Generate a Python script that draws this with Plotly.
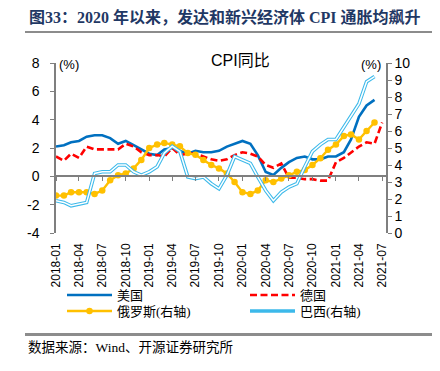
import plotly.graph_objects as go

# ---- data ----
MONTHS = [f"{y}-{m:02d}" for y in range(2018, 2022) for m in range(1, 13)][:43]

US = [2.1, 2.2, 2.4, 2.5, 2.8, 2.9, 2.9, 2.7, 2.3, 2.5, 2.2, 1.9,
      1.6, 1.5, 1.9, 2.0, 1.8, 1.6, 1.8, 1.7, 1.7, 1.8, 2.1, 2.3,
      2.5, 2.3, 1.5, 0.3, 0.1, 0.6, 1.0, 1.3, 1.4, 1.2, 1.2, 1.4,
      1.4, 1.7, 2.6, 4.2, 5.0, 5.4]

GERMANY = [1.4, 1.1, 1.6, 1.3, 2.1, 1.9, 1.9, 1.9, 1.9, 2.3, 2.1, 1.7,
           1.5, 1.5, 1.4, 2.0, 1.5, 1.6, 1.6, 1.4, 1.2, 1.1, 1.2, 1.5,
           1.7, 1.6, 1.4, 0.8, 0.6, 0.9, -0.1, -0.1, -0.2, -0.2, -0.3, -0.3,
           1.0, 1.3, 1.7, 2.1, 2.4, 2.3, 3.8]

RUSSIA = [2.2, 2.2, 2.4, 2.4, 2.4, 2.3, 2.5, 3.1, 3.4, 3.5, 3.8, 4.3,
          5.0, 5.2, 5.3, 5.2, 5.1, 4.7, 4.6, 4.3, 4.0, 3.8, 3.5, 3.0,
          2.4, 2.3, 2.5, 3.1, 3.0, 3.2, 3.4, 3.6, 3.7, 4.0, 4.4, 4.9,
          5.2, 5.7, 5.8, 5.5, 6.0, 6.5]

BRAZIL = [1.9, 1.8, 1.6, 1.7, 1.8, 3.5, 3.6, 3.6, 4.0, 4.0, 3.6, 3.4,
          3.6, 3.9, 4.7, 5.1, 4.8, 3.3, 3.2, 3.3, 2.9, 2.6, 3.4, 4.5,
          4.3, 4.1, 3.3, 2.5, 1.9, 2.4, 2.7, 2.9, 3.9, 4.8, 5.2, 5.5,
          5.5, 6.2, 6.9, 7.6, 8.9, 9.2]

SERIES_NAMES = ["美国", "德国", "俄罗斯(右轴)", "巴西(右轴)"]
TICK_LABELS = ["2018-01", "2018-04", "2018-07", "2018-10", "2019-01", "2019-04",
               "2019-07", "2019-10", "2020-01", "2020-04", "2020-07", "2020-10",
               "2021-01", "2021-04", "2021-07"]
LEFT_TICKS = [-4, -2, 0, 2, 4, 6, 8]
RIGHT_TICKS = list(range(0, 11))

TITLE = "图33：2020 年以来，发达和新兴经济体 CPI 通胀均飙升"
CHART_TITLE = "CPI同比"
SOURCE = "数据来源：Wind、开源证券研究所"

# ---- styling ----
W, H = 440, 371
OFF = 8  # page body margin
PW, PH = 330, 170
ML, MT = 56 - OFF, 63 - OFF
MR, MB = W - ML - PW, H - MT - PH
AX = "#7f7f7f"
SANS = "Liberation Sans, Arial, Noto Sans CJK SC"
SERIF = "Liberation Serif, Noto Sans CJK SC"
BRAZIL_C = "#3cb9ea"
RULE_C = "#8c8c8c"
COL1_W = 123  # legend entry width of first column


def px_x(v):  # page pixel -> paper
    return (v - OFF - ML) / PW


def px_y(v):
    return (H - MB - (v - OFF)) / PH


fig = go.Figure()
fig.add_trace(go.Scatter(x=MONTHS[:len(US)], y=US, name=SERIES_NAMES[0], mode="lines",
                         line=dict(color="#0070c0", width=2.6), xaxis="x", yaxis="y",
                         legend="legend", legendwidth=COL1_W))
fig.add_trace(go.Scatter(x=MONTHS[:len(GERMANY)], y=GERMANY, name=SERIES_NAMES[1], mode="lines",
                         line=dict(color="#ff0000", width=2.6, dash="7px,3.5px"),
                         xaxis="x", yaxis="y", legend="legend", legendwidth=40))
fig.add_trace(go.Scatter(x=MONTHS[:len(RUSSIA)], y=RUSSIA, name=SERIES_NAMES[2], mode="lines+markers",
                         line=dict(color="#ffc000", width=2.4),
                         marker=dict(color="#ffc000", size=6.5, symbol="circle"),
                         xaxis="x", yaxis="y2", legend="legend2", legendwidth=COL1_W))
fig.add_trace(go.Scatter(x=MONTHS[:len(BRAZIL)], y=BRAZIL, name=SERIES_NAMES[3], mode="lines",
                         line=dict(color=BRAZIL_C, width=3.6), xaxis="x", yaxis="y2",
                         legend="legend2", legendwidth=80))
fig.add_trace(go.Scatter(x=MONTHS[:len(BRAZIL)], y=BRAZIL, name=SERIES_NAMES[3], mode="lines",
                         line=dict(color="white", width=1.5), xaxis="x", yaxis="y2",
                         showlegend=False, hoverinfo="skip"))
# carrier for the zero-line axis
fig.add_trace(go.Scatter(x=MONTHS[:1], y=[None], mode="lines", xaxis="x2", yaxis="y",
                         showlegend=False, hoverinfo="skip"))

xrange = ["2018-01-01", "2021-07-16"]
zero_pos = (0 - LEFT_TICKS[0]) / (LEFT_TICKS[-1] - LEFT_TICKS[0])

legend_common = dict(orientation="h", yanchor="top", xanchor="left", itemwidth=45,
                     entrywidthmode="pixels",
                     borderwidth=0, bgcolor="rgba(0,0,0,0)", tracegroupgap=0,
                     traceorder="normal", font=dict(family=SERIF, size=13, color="black"))

fig.update_layout(
    template="none",
    width=W, height=H,
    margin=dict(l=ML, r=MR, t=MT, b=MB, pad=0),
    paper_bgcolor="white", plot_bgcolor="white",
    showlegend=True,
    xaxis=dict(type="date", range=xrange, tickvals=TICK_LABELS, ticktext=TICK_LABELS,
               tickangle=-90, showline=False, showgrid=False, zeroline=False,
               ticks="", ticklabelstandoff=7, automargin=False,
               tickfont=dict(family=SANS, size=12, color="black")),
    xaxis2=dict(type="date", range=xrange, tickvals=TICK_LABELS, overlaying="x",
                anchor="free", position=zero_pos, showticklabels=False,
                showline=True, linecolor=AX, linewidth=1.5, ticks="outside",
                ticklen=4, tickwidth=1, tickcolor=AX, showgrid=False, zeroline=False,
                automargin=False),
    yaxis=dict(range=[LEFT_TICKS[0], LEFT_TICKS[-1]], tickvals=LEFT_TICKS,
               ticktext=[str(v) for v in LEFT_TICKS],
               showline=True, linecolor=AX, linewidth=1.5, ticks="outside", ticklen=4,
               tickcolor=AX, showgrid=False, zeroline=False, automargin=False,
               ticklabelstandoff=8, tickfont=dict(family=SANS, size=14, color="black")),
    yaxis2=dict(range=[RIGHT_TICKS[0], RIGHT_TICKS[-1]], tickvals=RIGHT_TICKS,
                overlaying="y", side="right", anchor="x",
                showline=True, linecolor=AX, linewidth=1.5, ticks="outside", ticklen=4,
                tickcolor=AX, showgrid=False, zeroline=False, automargin=False,
                tickfont=dict(family=SANS, size=14, color="black")),
    legend=dict(x=px_x(62), y=px_y(280), **legend_common),
    legend2=dict(x=px_x(62), y=px_y(296), **legend_common),
    annotations=[
        dict(text=f"<b>{TITLE}</b>", xref="paper", yref="paper", x=px_x(27), y=px_y(17),
             xanchor="left", yanchor="middle", showarrow=False,
             font=dict(family=SERIF, size=16, color="#1f3864")),
        dict(text=CHART_TITLE, xref="paper", yref="paper", x=px_x(241), y=px_y(60),
             xanchor="center", yanchor="middle", showarrow=False,
             font=dict(family=SANS, size=16, color="black")),
        dict(text="(%)", xref="paper", yref="paper", x=px_x(57), y=px_y(64),
             xanchor="left", yanchor="middle", showarrow=False,
             font=dict(family=SANS, size=13, color="black")),
        dict(text="(%)", xref="paper", yref="paper", x=px_x(383), y=px_y(64),
             xanchor="right", yanchor="middle", showarrow=False,
             font=dict(family=SANS, size=13, color="black")),
        dict(text=SOURCE, xref="paper", yref="paper", x=px_x(26), y=px_y(347),
             xanchor="left", yanchor="middle", showarrow=False,
             font=dict(family=SERIF, size=13.5, color="black")),
    ],
    shapes=[
        dict(type="rect", xref="paper", yref="paper", x0=px_x(25), x1=px_x(437),
             y0=px_y(33), y1=px_y(31), layer="above",
             line=dict(width=0), fillcolor=RULE_C),
        dict(type="rect", xref="paper", yref="paper", x0=px_x(25), x1=px_x(437),
             y0=px_y(336), y1=px_y(333), layer="above",
             line=dict(width=0), fillcolor=RULE_C),
    ],
)

fig.write_html("out.html")
